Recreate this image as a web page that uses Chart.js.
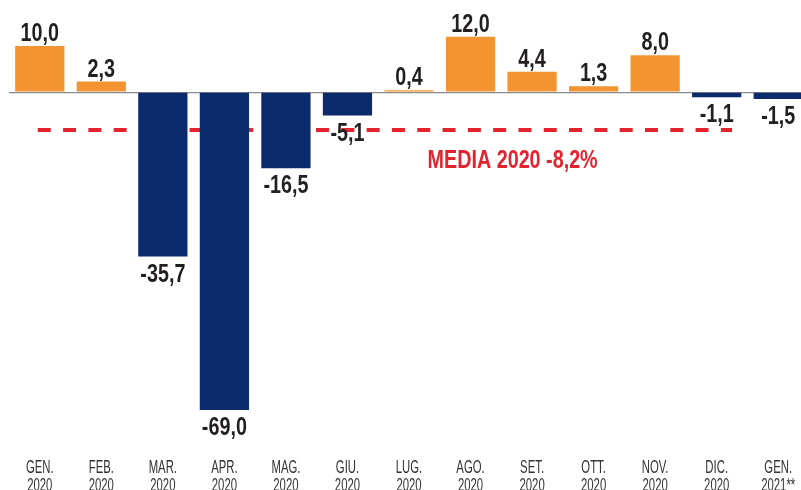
<!DOCTYPE html>
<html lang="it">
<head>
    <meta charset="UTF-8">
    <title>Variazione mensile 2020</title>
    <script src="https://cdn.jsdelivr.net/npm/chart.js"></script>
    <style>
        html, body { margin: 0; padding: 0; background: #fff; overflow: hidden; }
        #chart { display: block; }
    </style>
</head>
<body>
    <canvas id="chart" width="815" height="490"></canvas>

    <script>
        // Dati
        const months = ["GEN.", "FEB.", "MAR.", "APR.", "MAG.", "GIU.", "LUG.", "AGO.", "SET.", "OTT.", "NOV.", "DIC.", "GEN."];
        const years = ["2020", "2020", "2020", "2020", "2020", "2020", "2020", "2020", "2020", "2020", "2020", "2020", "2021**"];
        const values = [10.0, 2.3, -35.7, -69.0, -16.5, -5.1, 0.4, 12.0, 4.4, 1.3, 8.0, -1.1, -1.5];
        const media = -8.2;
        const mediaLabel = "MEDIA 2020 -8,2%";
        const mediaLastIndex = 11;

        const ORANGE = "#f39431";
        const NAVY = "#0b2b6c";
        const RED = "#e3232d";
        const FONT = "'Liberation Sans', Arial, sans-serif";

        const fmt = v => v.toFixed(1).replace(".", ",");

        // testo compresso in orizzontale (carattere condensed)
        function narrowText(ctx, text, x, y, sx, align) {
            ctx.save();
            ctx.translate(x, y);
            ctx.scale(sx, 1);
            ctx.textAlign = align || "center";
            ctx.fillText(text, 0, 0);
            ctx.restore();
        }

        // linea tratteggiata della media, sotto le barre
        const mediaLine = {
            id: "mediaLine",
            beforeDatasetsDraw(chart) {
                const { ctx, scales: { x, y } } = chart;
                const py = y.getPixelForValue(media);
                const step = x.getPixelForValue(1) - x.getPixelForValue(0);
                ctx.save();
                ctx.strokeStyle = RED;
                ctx.lineWidth = 4;
                ctx.setLineDash([13, 12.3]);
                ctx.beginPath();
                ctx.moveTo(x.getPixelForValue(0) - 2, py);
                ctx.lineTo(x.getPixelForValue(mediaLastIndex) + step * 0.25, py);
                ctx.stroke();
                ctx.restore();
            },
            afterDatasetsDraw(chart) {
                const { ctx, scales: { x, y } } = chart;
                ctx.save();
                ctx.fillStyle = RED;
                ctx.font = "bold 25px " + FONT;
                ctx.textBaseline = "alphabetic";
                narrowText(ctx, mediaLabel, x.getPixelForValue(7) - 43, y.getPixelForValue(media) + 38, 0.79, "left");
                ctx.restore();
            }
        };

        // etichette dei valori
        const valueLabels = {
            id: "valueLabels",
            afterDatasetsDraw(chart) {
                const { ctx } = chart;
                const meta = chart.getDatasetMeta(0);
                ctx.save();
                ctx.fillStyle = "#231f20";
                ctx.font = "bold 26px " + FONT;
                ctx.textBaseline = "alphabetic";
                meta.data.forEach((bar, i) => {
                    const v = values[i];
                    const yy = v >= 0 ? bar.y - 5 : bar.y + 6 + 19;
                    narrowText(ctx, fmt(v), bar.x, yy, 0.76);
                });
                ctx.restore();
            }
        };

        // etichette dei mesi sotto l'asse
        const monthLabels = {
            id: "monthLabels",
            afterDraw(chart) {
                const { ctx, scales: { x } } = chart;
                ctx.save();
                ctx.fillStyle = "#333";
                ctx.font = "18px " + FONT;
                ctx.textBaseline = "alphabetic";
                x.ticks.forEach((t, i) => {
                    const px = x.getPixelForTick(i);
                    narrowText(ctx, months[i], px, 473, 0.63);
                    narrowText(ctx, years[i], px, 491, 0.63);
                });
                ctx.restore();
            }
        };

        new Chart(document.getElementById("chart"), {
            type: "bar",
            data: {
                labels: months.map((m, i) => m + " " + years[i]),
                datasets: [{
                    data: values,
                    backgroundColor: values.map(v => v >= 0 ? ORANGE : NAVY),
                    categoryPercentage: 0.8,
                    barPercentage: 1.0,
                    borderWidth: 0
                }]
            },
            options: {
                responsive: false,
                animation: false,
                layout: { padding: { left: 9, right: 6, top: 0, bottom: 57 } },
                plugins: {
                    legend: { display: false },
                    tooltip: { enabled: false }
                },
                scales: {
                    x: {
                        grid: { display: false, drawTicks: false },
                        border: { display: false },
                        ticks: { display: false, autoSkip: false }
                    },
                    y: {
                        min: -74,
                        max: 20,
                        border: { display: false },
                        grid: {
                            drawTicks: false,
                            lineWidth: 1.2,
                            color: c => c.tick.value === 0 ? "#8a8a8a" : "transparent"
                        },
                        ticks: { display: false, stepSize: 1 }
                    }
                }
            },
            plugins: [mediaLine, valueLabels, monthLabels]
        });
    </script>
</body>
</html>
